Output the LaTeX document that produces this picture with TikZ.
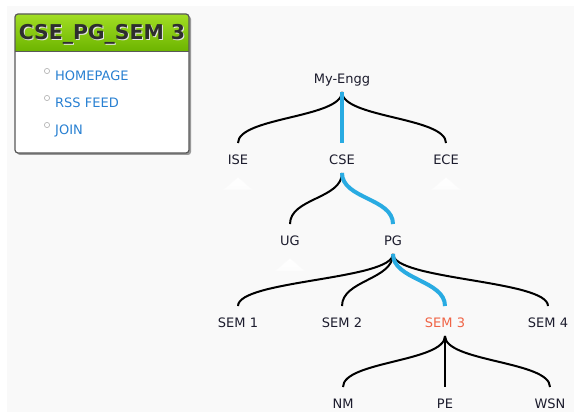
\documentclass[tikz,border=0pt]{standalone}
\usepackage{fontspec}
\setmainfont{DejaVu Sans}
\usetikzlibrary{calc}
\definecolor{pathblue}{RGB}{41,171,226}
\definecolor{activered}{RGB}{240,100,70}
\definecolor{inktext}{RGB}{28,28,45}
\definecolor{linkblue}{RGB}{40,128,210}
\definecolor{greentop}{RGB}{162,222,36}
\definecolor{greenbot}{RGB}{108,180,0}
\definecolor{pagebg}{RGB}{249,249,249}
\tikzset{
  treenode/.style={inner sep=0pt, text height=9.5pt, text depth=0pt, text=inktext,
    font=\fontsize{13}{15}\selectfont},
  linktext/.style={inner sep=0pt, text height=9.5pt, text depth=0pt, text=linkblue,
    anchor=west, font=\fontsize{13}{15}\selectfont},
  branch/.style={line width=2pt, black,
    to path={.. controls +(0,26) and +(0,-26) .. (\tikztotarget)}},
  trail/.style={branch, line width=4pt, pathblue},
  folded/.style={top color=white, bottom color=white!60!pagebg, draw=gray!4, line width=0.5pt},
  bullet/.style={draw=gray!55, line width=0.7pt, fill=white},
}
\newcommand{\treelink}[3][branch]{\draw[#1] ([yshift=-8pt]#2.south) to ([yshift=12pt]#3.north);}
\begin{document}
\begin{tikzpicture}[x=1pt,y=-1pt]
\useasboundingbox (0,0) rectangle (574,412);
\fill[pagebg] (7,6) rectangle (574,412);

% side panel
\fill[black!40, rounded corners=3pt] (17,16) rectangle (191,155);
\fill[white, rounded corners=3pt] (15,14) rectangle (189,153);
\shade[top color=greentop, bottom color=greenbot]
  (15,51.5) {[rounded corners=3pt] -- (15,14) -- (189,14)} -- (189,51.5) -- cycle;
\draw[black!65, line width=1pt] (15,51.5) -- (189,51.5);
\draw[black!65, line width=1.2pt, rounded corners=3pt] (15,14) rectangle (189,153);
\node[font=\bfseries\fontsize{20.4}{22}\selectfont, text=white!80!gray, inner sep=0pt] at (103,35) {CSE\_PG\_SEM 3};
\node[font=\bfseries\fontsize{20.4}{22}\selectfont, text=black!82, inner sep=0pt] (title) at (102,34) {CSE\_PG\_SEM 3};

\draw[bullet] (47,71) circle (2.6);
\node[linktext] (home) at (55,76) {HOMEPAGE};
\draw[bullet] (47,98) circle (2.6);
\node[linktext] (rss) at (55,103) {RSS FEED};
\draw[bullet] (47,125) circle (2.6);
\node[linktext] (join) at (55,130) {JOIN};

% tree nodes
\node[treenode] (root) at (342,79) {My-Engg};
\node[treenode] (ise) at (238,160) {ISE};
\node[treenode] (cse) at (342,160) {CSE};
\node[treenode] (ece) at (446,160) {ECE};
\node[treenode] (ug) at (290,241) {UG};
\node[treenode] (pg) at (393,241) {PG};
\node[treenode] (s1) at (238,323) {SEM 1};
\node[treenode] (s2) at (342,323) {SEM 2};
\node[treenode, text=activered] (s3) at (445,323) {SEM 3};
\node[treenode] (s4) at (548,323) {SEM 4};
\node[treenode] (nm) at (343,404) {NM};
\node[treenode] (pe) at (445,404) {PE};
\node[treenode] (wsn) at (550,404) {WSN};

% collapsed markers
\foreach \n in {ise,ece,ug}
  \path[folded] ($(\n)+(0,17)$) -- ($(\n)+(-15,30)$) -- ($(\n)+(15,30)$) -- cycle;

% connectors
\treelink{root}{ise}
\treelink{root}{ece}
\treelink{cse}{ug}
\treelink{pg}{s1}
\treelink{pg}{s2}
\treelink{pg}{s4}
\treelink{s3}{nm}
\treelink{s3}{pe}
\treelink{s3}{wsn}
\treelink[trail]{root}{cse}
\treelink[trail]{cse}{pg}
\treelink[trail]{pg}{s3}
\end{tikzpicture}
\end{document}
